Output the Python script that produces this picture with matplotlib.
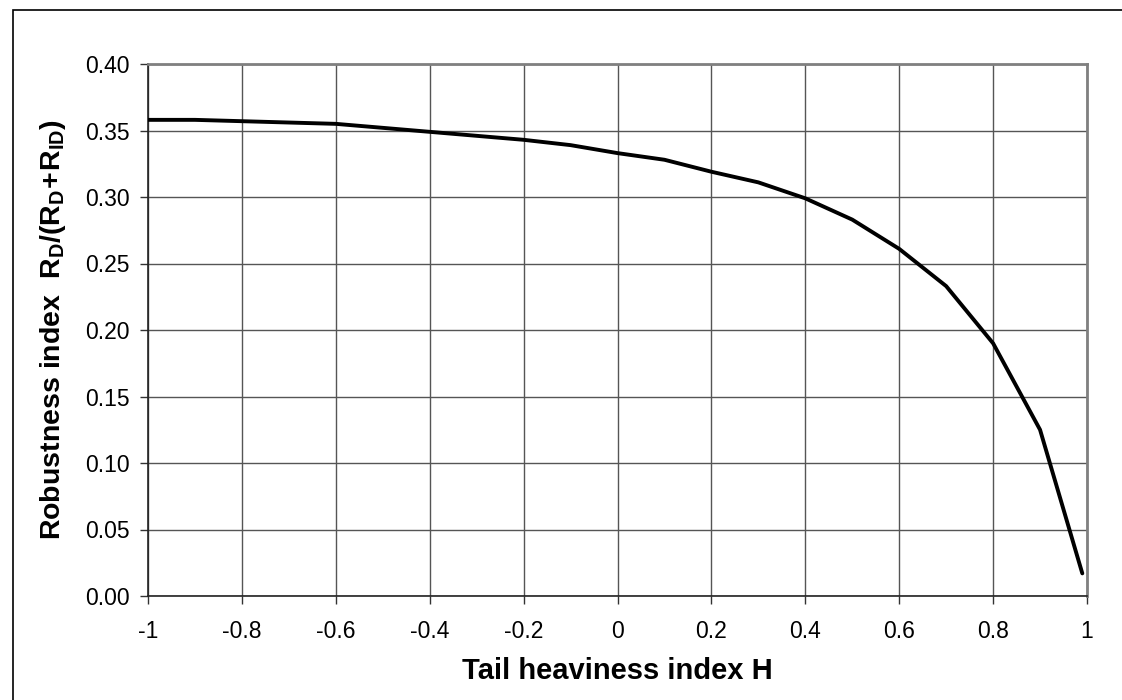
import numpy as np
import matplotlib.pyplot as plt
from matplotlib.patches import Rectangle

plt.rcParams['font.family'] = ['Liberation Sans', 'DejaVu Sans']
plt.rcParams['mathtext.fontset'] = 'custom'
plt.rcParams['mathtext.rm'] = 'Liberation Sans'
plt.rcParams['mathtext.bf'] = 'Liberation Sans:bold'

# Werte
H = [-1.0, -0.9, -0.8, -0.7, -0.6, -0.5, -0.4, -0.3, -0.2, -0.1,
     0.0, 0.1, 0.2, 0.3, 0.4, 0.5, 0.6, 0.7, 0.8, 0.9, 0.99]
robustness = [0.358, 0.358, 0.357, 0.356, 0.355, 0.352, 0.349, 0.346, 0.343, 0.339,
              0.333, 0.328, 0.319, 0.311, 0.299, 0.283, 0.261, 0.233, 0.190, 0.125, 0.017]

x_ticks = [-1, -0.8, -0.6, -0.4, -0.2, 0, 0.2, 0.4, 0.6, 0.8, 1]
x_labels = ['-1', '-0.8', '-0.6', '-0.4', '-0.2', '0', '0.2', '0.4', '0.6', '0.8', '1']
y_ticks = [0.00, 0.05, 0.10, 0.15, 0.20, 0.25, 0.30, 0.35, 0.40]

fig = plt.figure(figsize=(11.22, 7.0), dpi=100)
ax = fig.add_axes([148 / 1122, 104 / 700, 939 / 1122, 532 / 700])

# Rahmen um die ganze Grafik
fig.patches.append(Rectangle((13 / 1122, -0.1), 1.2, 0.1 + 690 / 700,
                             transform=fig.transFigure, fill=False,
                             edgecolor='black', linewidth=1.2))

ax.plot(H, robustness, color='black', linewidth=2.8, solid_capstyle='round',
        solid_joinstyle='round', zorder=3)

ax.set_xlim(-1, 1)
ax.set_ylim(0, 0.4)
ax.set_xticks(x_ticks)
ax.set_xticklabels(x_labels)
ax.set_yticks(y_ticks)
ax.set_yticklabels(['%.2f' % v for v in y_ticks])
ax.grid(True, color='#555555', linewidth=1.0)
ax.set_axisbelow(True)

ax.tick_params(axis='both', labelsize=16.5, direction='out', length=5.5, width=1,
               color='#333333')
ax.tick_params(axis='x', pad=12)
ax.tick_params(axis='y', pad=8)
for side in ['left', 'bottom']:
    ax.spines[side].set_color('#222222')
    ax.spines[side].set_linewidth(1.2)
for side in ['top', 'right']:
    ax.spines[side].set_color('#808080')
    ax.spines[side].set_linewidth(2)

ax.set_xlabel('Tail heaviness index H', fontsize=21, fontweight='bold', labelpad=10)
ax.set_ylabel(r'Robustness index  $\mathbf{R_D/(R_D\!+\!R_{ID})}$', fontsize=20.5,
              fontweight='bold', labelpad=12)

fig.savefig('out.png', dpi=100)
